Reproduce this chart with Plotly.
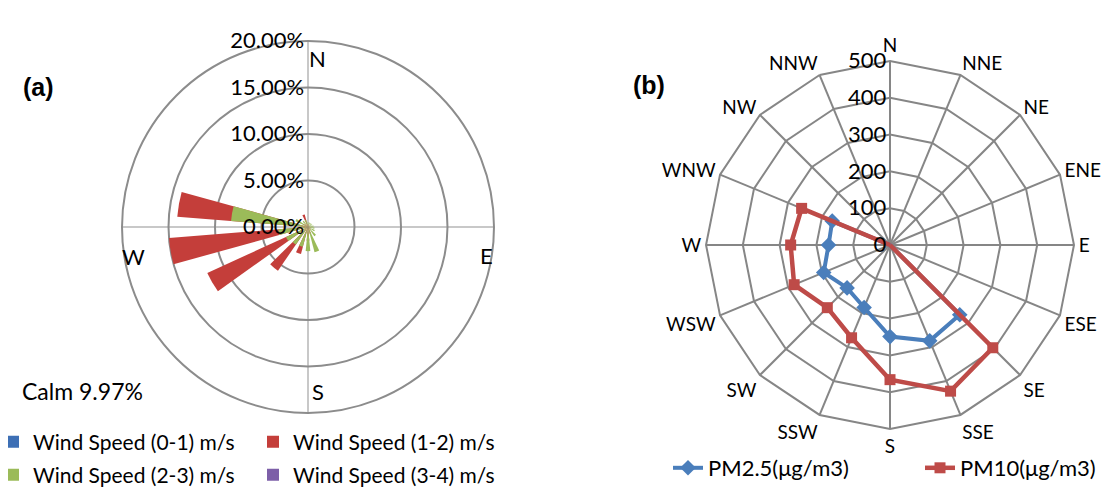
import plotly.graph_objects as go

# ---------------- (a) wind rose data (percent of time) ----------------
wind_dirs = [0, 20, 40, 60, 80, 100, 120, 140, 160, 180, 200, 220, 240, 260, 280, 300, 320, 340]
ws_0_1 = [0.1, 0.1, 0.1, 0.1, 0.1, 0.1, 0.1, 0.1, 0.2, 0.2, 0.2, 0.2, 0.2, 0.2, 0.2, 0.1, 0.1, 0.1]
ws_1_2 = [0.3, 0.2, 0.2, 0.2, 0.2, 0.3, 0.3, 0.4, 0.8, 1.5, 3.0, 5.7, 11.9, 15.0, 14.1, 0.6, 0.4, 1.4]
ws_2_3 = [0.5, 0.5, 0.5, 0.5, 0.6, 0.7, 0.8, 1.2, 2.8, 2.6, 2.2, 2.3, 2.6, 3.2, 8.3, 1.5, 0.8, 0.8]
ws_3_4 = [0.0, 0.0, 0.0, 0.0, 0.0, 0.0, 0.0, 0.0, 0.0, 0.0, 0.0, 0.0, 0.0, 0.0, 0.0, 0.0, 0.0, 0.0]
calm_pct = 9.97
wind_ticks = [0, 5, 10, 15, 20]

# ---------------- (b) pollutant rose data ----------------
dirs16 = ["N", "NNE", "NE", "ENE", "E", "ESE", "SE", "SSE",
          "S", "SSW", "SW", "WSW", "W", "WNW", "NW", "NNW"]
pm25 = [0, 0, 0, 0, 0, 0, 268, 282, 249, 184, 165, 195, 167, 170, 0, 0]
pm10 = [0, 0, 0, 0, 0, 0, 395, 430, 366, 273, 241, 282, 270, 260, 0, 0]
pm_ticks = [0, 100, 200, 300, 400, 500]

FONT = "Lato"
fig = go.Figure()

bar_series = [
    ("Wind Speed (0-1) m/s", ws_0_1, "#3D6FB5", "legend"),
    ("Wind Speed (1-2) m/s", ws_1_2, "#C43E3A", "legend2"),
    ("Wind Speed (2-3) m/s", ws_2_3, "#9BBB59", "legend3"),
    ("Wind Speed (3-4) m/s", ws_3_4, "#7D5FA8", "legend4"),
]
for name, vals, col, leg in bar_series:
    fig.add_trace(go.Barpolar(
        r=vals, theta=wind_dirs, width=11, name=name,
        marker=dict(color=col, line=dict(width=0)),
        subplot="polar", legend=leg,
    ))

fig.add_trace(go.Scatterpolar(
    r=pm25 + pm25[:1], theta=dirs16 + dirs16[:1], mode="lines+markers",
    name="PM2.5(μg/m3)", line=dict(color="#4A7EBB", width=4),
    marker=dict(symbol="diamond", size=12, color="#4A7EBB"),
    subplot="polar2", legend="legend5",
))
fig.add_trace(go.Scatterpolar(
    r=pm10 + pm10[:1], theta=dirs16 + dirs16[:1], mode="lines+markers",
    name="PM10(μg/m3)", line=dict(color="#BE4B48", width=4.5),
    marker=dict(symbol="square", size=11, color="#BE4B48"),
    subplot="polar2", legend="legend6",
))

W, H = 1114, 491
def px(x, y):
    return x / W, 1 - y / H

def leg(x, y, size):
    return dict(x=px(x, 0)[0], y=px(0, y)[1], orientation="h",
                xanchor="left", yanchor="middle",
                font=dict(family=FONT, size=size, color="black"),
                bgcolor="rgba(0,0,0,0)", borderwidth=0,
                itemclick=False, itemdoubleclick=False)

wind_ticktext = [f"{v:.2f}%" for v in wind_ticks]
pm_ticktext = [f"{v}" for v in pm_ticks]

fig.update_layout(
    width=W, height=H,
    margin=dict(l=0, r=0, t=0, b=0, autoexpand=False),
    paper_bgcolor="white",
    font=dict(family=FONT, size=22, color="black"),
    polar=dict(
        domain=dict(x=[0.1023, 0.4363], y=[0.1752, 0.9328]),
        bgcolor="rgba(0,0,0,0)",
        barmode="overlay",
        angularaxis=dict(direction="clockwise", rotation=90,
                         tickvals=[0, 90, 180, 270], showticklabels=False, ticks="",
                         showgrid=True, gridcolor="#C8C8C8", gridwidth=1.5,
                         showline=True, linecolor="#8C8C8C", linewidth=2),
        radialaxis=dict(range=[0, 20], tickvals=wind_ticks, ticktext=wind_ticktext,
                        angle=90, tickangle=90, side="counterclockwise", ticks="",
                        showline=False, gridcolor="#8C8C8C", gridwidth=2,
                        tickfont=dict(family=FONT, size=22, color="black")),
    ),
    polar2=dict(
        domain=dict(x=[0.6266, 0.9569], y=[0.1426, 0.8921]),
        bgcolor="rgba(0,0,0,0)",
        gridshape="linear",
        angularaxis=dict(direction="clockwise", rotation=90, type="category",
                         categoryarray=dirs16, ticks="",
                         gridcolor="#868686", gridwidth=2,
                         showline=True, linecolor="#868686", linewidth=2,
                         tickfont=dict(family=FONT, size=19, color="black")),
        radialaxis=dict(range=[0, 500], tickvals=pm_ticks, ticktext=pm_ticktext,
                        angle=90, tickangle=90, side="counterclockwise",
                        ticks="", showline=False, gridcolor="#868686", gridwidth=2,
                        tickfont=dict(family=FONT, size=22, color="black")),
    ),
    legend=leg(-15, 434, 21),
    legend2=leg(245, 434, 21),
    legend3=leg(-15, 467, 21),
    legend4=leg(245, 467, 21),
    legend5=leg(660, 460, 22),
    legend6=leg(912, 460, 22),
    showlegend=True,
)

def ann(text, x, y, size=22, bold=False, family=FONT):
    ax, ay = px(x, y)
    fig.add_annotation(text=f"<b>{text}</b>" if bold else text, x=ax, y=ay,
                       xref="paper", yref="paper", showarrow=False,
                       xanchor="center", yanchor="middle",
                       font=dict(family=family, size=size, color="black"))

ann("(a)", 30, 79, size=25, bold=True, family="Liberation Sans")
ann("(b)", 641, 77, size=25, bold=True, family="Liberation Sans")
ann(f"Calm {calm_pct:.2f}%", 74, 383, size=23)
ann("N", 309.5, 50.5)
ann("E", 478, 247.5)
ann("W", 125, 249)
ann("S", 310.5, 383)

fig.write_html("out.html")
